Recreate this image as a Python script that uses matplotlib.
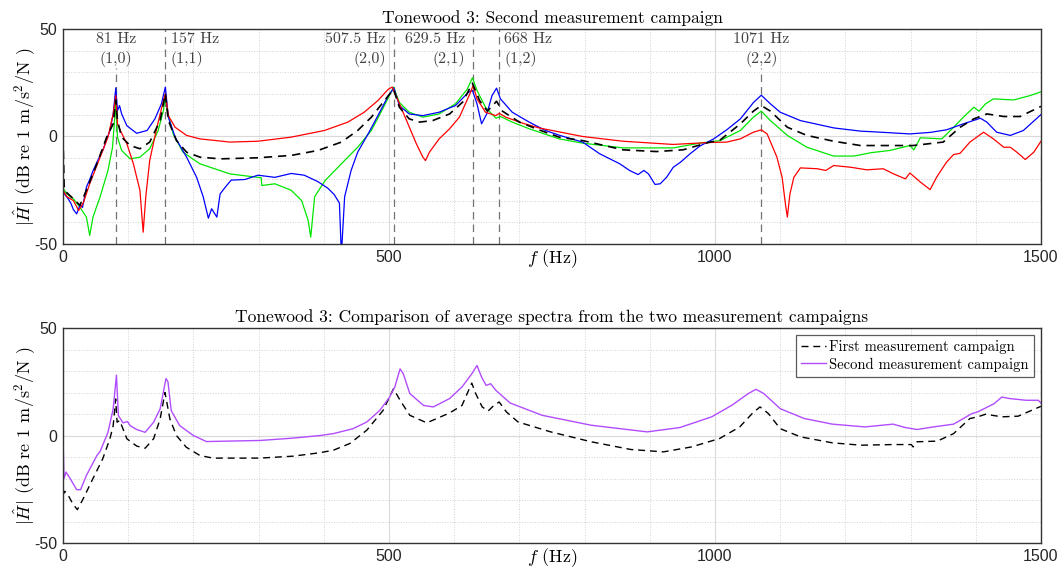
import numpy as np
import matplotlib
matplotlib.use("Agg")
import matplotlib.pyplot as plt

# frequency response values (Hz, dB)
blue_f = [0, 3, 8, 12, 16, 21, 26, 30, 36, 41, 46, 52, 61, 72, 77, 81, 83.6, 86.7, 90, 98, 113, 129, 141, 151, 157,
          161.6, 172, 189.6, 205, 215, 223, 228, 236, 241, 251, 258, 279, 299, 325, 350, 370, 391, 406, 416, 424, 427,
          432, 442, 452, 468, 483, 499, 507.5, 516, 531, 552, 577, 602, 622, 628, 635, 642, 650, 658, 665, 671, 689,
          715, 740, 762, 797, 823, 854, 869, 882, 891, 898, 908, 916, 926, 936, 947, 962, 977, 998, 1018, 1039, 1059,
          1071, 1085, 1100, 1131, 1182, 1223, 1254, 1299, 1330, 1355, 1381, 1407, 1417, 1432, 1453, 1473, 1500]
blue_db = [-25, -27, -29, -31, -34, -36, -32, -33, -23.5, -20, -16, -12, -6.5, 2.8, 10.5, 22.6, 12, 14.4, 10.5, 5, 1.5,
           2.8, 8.2, 15.2, 23, 9, -0.3, -9.6, -19, -28, -38, -33.6, -37.5, -26.7, -22.8, -20.3, -20, -18, -19, -17.2,
           -18, -21, -24, -27, -31, -55, -28, -15.7, -7.3, 1.2, 9.7, 19, 22.5, 14.4, 10.5, 9.7, 11.3, 14.4, 20.6, 21.4,
           15.2, 5.9, 10.5, 19, 22.5, 17.5, 11.3, 6.7, 2.8, 0.5, -2.6, -8, -12.7, -15.8, -17.7, -15.8, -17.4, -22.3,
           -22, -18.9, -14.3, -12, -8, -4.4, -1.1, 3.1, 8.2, 15.8, 19.2, 15.2, 11.3, 7.4, 4, 2.5, 2, 1.2, 1.9, 3.1,
           5.9, 8.5, 6.7, 2, 0.5, 2.8, 10.2]

red_f = [0, 6, 16, 24, 31, 41, 57, 69, 77, 81, 83.6, 88, 98, 108, 118, 123, 127, 133, 143, 151, 157, 161.6, 172,
         189.6, 210, 256, 299, 350, 401, 437, 462, 483, 499, 505, 514, 527, 542, 552, 556, 562, 577, 593, 608, 624,
         629, 635, 648, 664, 669, 679, 705, 730, 797, 859, 936, 990, 1018, 1039, 1059, 1071, 1080, 1095, 1103, 1108,
         1111, 1115, 1121, 1131, 1157, 1170, 1182, 1208, 1233, 1258, 1274, 1292, 1299, 1315, 1330, 1340, 1355, 1366,
         1376, 1391, 1412, 1427, 1443, 1453, 1463, 1476, 1489, 1500]
red_db = [-25, -28, -29.8, -34.4, -31, -22, -9.6, -0.3, 10.5, 19, 5.9, 2.8, -3.4, -12.7, -25, -44.5, -28, -11.2, 2.8,
          12.9, 19.8, 9.7, 4.3, 0.5, -1.1, -2.6, -2.2, -0.3, 2.8, 6.7, 11.3, 16.7, 22, 23, 16.7, 7.4, -3.4, -9.6,
          -11.2, -7.3, -1.1, 3.6, 9, 19.8, 23.7, 17.5, 11.3, 9.7, 10.8, 9, 6.2, 4, 0, -2.2, -3.7, -2.8, -2.6, -1.1, 2,
          3.1, 1.2, -9.6, -19, -31.3, -37.5, -26.7, -19, -14.6, -15, -15.8, -13.5, -14.3, -15.5, -15, -17.4, -19.7,
          -17, -21.2, -24.7, -18.9, -12, -8.4, -7.8, -2.6, 2, -1.1, -5, -5, -7.3, -10.7, -7.3, -2.2]

green_f = [0, 6, 16, 26, 36, 41, 46, 57, 69, 76, 81, 83.6, 90, 103, 118, 133, 146, 154, 157, 160, 169, 184, 210, 256,
           304, 305, 325, 350, 366, 376, 380, 386, 402, 427, 452, 473, 493, 507, 516, 531, 552, 577, 602, 620, 628,
           635, 648, 664, 671, 689, 715, 761, 797, 859, 936, 977, 1008, 1039, 1059, 1071, 1085, 1111, 1141, 1182,
           1213, 1240, 1268, 1299, 1305, 1315, 1348, 1366, 1381, 1397, 1405, 1415, 1427, 1458, 1483, 1500]
green_db = [-24, -26.7, -29, -32.9, -37.5, -46, -37.5, -28, -15.8, -5, 15.2, -0.3, -6.5, -10.4, -9.6, -5.7, 2.8, 12,
            19, 12, 1.2, -7.3, -12.7, -17.4, -19.2, -22.8, -22, -25, -29.8, -39, -46.8, -28, -20.5, -12.7, -5, 2.8,
            14.4, 23, 15.8, 11.3, 9, 10.5, 15.2, 22, 27.3, 21.4, 13.6, 8.5, 9.3, 6.7, 3.6, -1.1, -3.1, -5.3, -5.3,
            -3.1, -1.9, 2.8, 9, 11.8, 7.4, 0.5, -5, -9.1, -9.1, -7.5, -6.5, -4.2, -6.2, -0.6, -1.1, 4.3, 9, 13.6,
            11.8, 15.2, 17.5, 17, 19, 20.8]

mean_f = [0, 2, 16, 26, 36, 52, 67, 77, 81, 83.6, 90, 103, 118, 133, 149, 157, 161.6, 174, 189.6, 210, 241, 299, 350,
          391, 427, 452, 473, 493, 507, 516, 531, 547, 567, 593, 613, 628, 639, 651, 659, 665, 674, 700, 730, 761,
          797, 859, 910, 951, 990, 1008, 1039, 1059, 1071, 1085, 1111, 1141, 1182, 1223, 1304, 1350, 1376, 1397,
          1417, 1443, 1468, 1500]
mean_db = [0, -25, -29, -32, -25, -12.7, -0.3, 5.9, 17, 7.4, -0.3, -4.2, -5.7, -2.6, 7.4, 20, 7.4, -1.9, -7.3, -9.6,
           -10.4, -9.9, -8.8, -6.5, -2.6, 2.8, 9, 16.7, 22, 13.6, 8.2, 6.7, 7.4, 10.5, 16, 24.8, 16.7, 11.8, 14.4,
           16.4, 11.8, 6.7, 3.1, -0.3, -1.9, -6.2, -7, -6.2, -2.8, -1.6, 5.9, 11.8, 14.4, 11.8, 4.3, 0.5, -2.2, -4.2,
           -4.2, -2.6, 4.3, 8.2, 10.5, 9.3, 9.3, 14]

first_f = [0, 1, 3, 8, 15, 22, 31, 46, 61, 72, 77, 80.8, 83, 87, 98, 113, 126, 139, 149, 156.5, 164, 174, 189, 210,
           230, 302, 353, 394, 415, 440, 466, 491, 507, 517, 532, 558, 593, 612, 627, 633, 643, 652, 661, 669, 680,
           698, 748, 810, 871, 921, 964, 1007, 1038, 1057, 1069, 1082, 1100, 1131, 1180, 1224, 1273, 1301, 1304,
           1310, 1341, 1366, 1391, 1403, 1415, 1440, 1465, 1500]
first_db = [-20, -27, -26, -27.8, -31.7, -34.5, -29.4, -20, -10.8, -1.5, 4.6, 17, 6.2, 7, -1.5, -4.9, -5.9, -1.5,
            7.7, 20, 7.7, 0, -5.4, -9.3, -10.5, -10.5, -9.6, -8, -6.8, -3.7, 2.5, 11.7, 21.8, 16.4, 9.4, 5.9, 10.5,
            14, 24.4, 19.5, 13.3, 11.4, 14, 15.6, 11, 6.3, 1.7, -2.9, -6.5, -7.6, -5.3, -1.4, 4, 10.2, 13.3, 10.2,
            3.2, -0.6, -3.4, -4.5, -4.2, -4.2, -5.3, -2.9, -2.6, 0.9, 7.9, 8.7, 9.9, 8.7, 9, 13.6]

second_f = [0, 1.5, 4.6, 11, 21, 27, 36, 52, 57, 69, 77, 82, 85, 92, 99, 103, 113, 126, 139, 149, 158, 161, 166, 179,
            200, 220, 302, 353, 394, 415, 445, 466, 486, 501, 509, 517, 522, 532, 553, 568, 593, 612, 627, 635, 642,
            649, 656, 664, 686, 735, 810, 896, 946, 995, 1026, 1051, 1063, 1075, 1100, 1137, 1180, 1230, 1273, 1292,
            1310, 1335, 1366, 1394, 1403, 1428, 1440, 1452, 1477, 1496, 1500]
second_db = [0.8, -20, -17, -20, -25.2, -25.2, -18.5, -9.3, -7.4, 1.5, 12.4, 28.1, 9.3, 5.9, 6.5, 4.6, 2.8, 1.5, 6.2,
             12.4, 26.5, 25, 11.6, 4.6, 0, -2.8, -2.3, -1.2, 0, 0.9, 3.2, 6.3, 11.7, 17.9, 22.6, 31, 28.7, 19.5, 14,
             13.3, 17.2, 22.6, 28.7, 32.6, 27.2, 23.3, 24.1, 21, 15.1, 9.4, 4.8, 1.7, 3.7, 8.7, 14.1, 19.5, 21.5,
             19.5, 12.5, 7.9, 5.3, 4, 5.3, 3.7, 2.8, 4, 5.3, 10.2, 11, 14.8, 17.9, 17.2, 16.4, 16.4, 15.1]

# mode markers
mode_f = [81, 157, 507.5, 629.5, 668, 1071]
mode_hz = ['81 Hz', '157 Hz', '507.5 Hz', '629.5 Hz', '668 Hz', '1071 Hz']
mode_idx = ['(1,0)', '(1,1)', '(2,0)', '(2,1)', '(1,2)', '(2,2)']
mode_ha = ['center', 'left', 'right', 'right', 'left', 'center']

plt.rcParams['mathtext.fontset'] = 'cm'
plt.rcParams['axes.unicode_minus'] = False
serif = 'cmr10'
tickfont = 'Liberation Sans'


def style_axes(ax):
    ax.set_xlim(0, 1500)
    ax.set_ylim(-50, 50)
    ax.set_xticks([0, 500, 1000, 1500])
    ax.set_yticks([-50, 0, 50])
    ax.set_xticks(np.arange(0, 1501, 100), minor=True)
    ax.set_yticks(np.arange(-50, 51, 10), minor=True)
    ax.grid(True, which='major', color='0.85', lw=0.8, ls='-')
    ax.grid(True, which='minor', color='0.82', lw=0.7, ls=':')
    ax.set_axisbelow(True)
    ax.tick_params(which='both', length=0, labelsize=11.5, pad=4)
    for lab in ax.get_xticklabels() + ax.get_yticklabels():
        lab.set_fontfamily(tickfont)
        lab.set_color('0.15')
    for s in ax.spines.values():
        s.set_color('0.2')
        s.set_linewidth(1.0)
    ax.set_xlabel(r'$f$ (Hz)', fontfamily=serif, fontsize=13)
    ax.xaxis.set_label_coords(0.5, -0.015)
    ax.set_ylabel(r'$|\hat{H}|$ (dB re 1 m/s$^2$/N )', fontfamily=serif, fontsize=13, labelpad=-2)


fig = plt.figure(figsize=(10.62, 5.71), dpi=100)
ax1 = fig.add_axes([0.0593, 0.5727, 0.9209, 0.3765])
ax2 = fig.add_axes([0.0593, 0.049, 0.9209, 0.3765])

# top: second campaign spectra
style_axes(ax1)
for f, hz, idx, ha in zip(mode_f, mode_hz, mode_idx, mode_ha):
    top = 32 if ha == 'center' else 50
    ax1.plot([f, f], [-50, top], color='0.45', ls=(0, (6, 4)), lw=0.9)
    dx = {'center': 0, 'left': 4, 'right': -6}[ha]
    ax1.annotate(hz + '\n' + idx, xy=(f, 48.5), xytext=(dx, 0), textcoords='offset points',
                 ha=ha, va='top', multialignment='center' if ha == 'center' else ha,
                 fontfamily=serif, fontsize=11.5, color='0.25', linespacing=1.4)
ax1.plot(green_f, green_db, color='#00e600', lw=0.9)
ax1.plot(blue_f, blue_db, color='#0000ff', lw=0.9)
ax1.plot(red_f, red_db, color='#ff0000', lw=0.9)
ax1.plot(mean_f, mean_db, color='black', lw=1.2, ls=(0, (5, 3.5)))
ax1.set_title('Tonewood 3: Second measurement campaign', fontfamily=serif, fontsize=12.5, pad=4)

# bottom: comparison of averages
style_axes(ax2)
ax2.plot(first_f, first_db, color='black', lw=1.0, ls=(0, (5, 3.5)), label='First measurement campaign')
ax2.plot(second_f, second_db, color='#b24cff', lw=1.0, label='Second measurement campaign')
ax2.set_title('Tonewood 3: Comparison of average spectra from the two measurement campaigns',
              fontfamily=serif, fontsize=12.5, pad=4)
leg = ax2.legend(loc='upper right', prop={'family': serif, 'size': 10.5}, frameon=True, fancybox=False,
                 handlelength=1.7, handletextpad=0.2, borderpad=0.35, labelspacing=0.2, borderaxespad=0.5)
leg.get_frame().set_edgecolor('0.2')
leg.get_frame().set_linewidth(0.9)

fig.savefig('out.png', dpi=100)
